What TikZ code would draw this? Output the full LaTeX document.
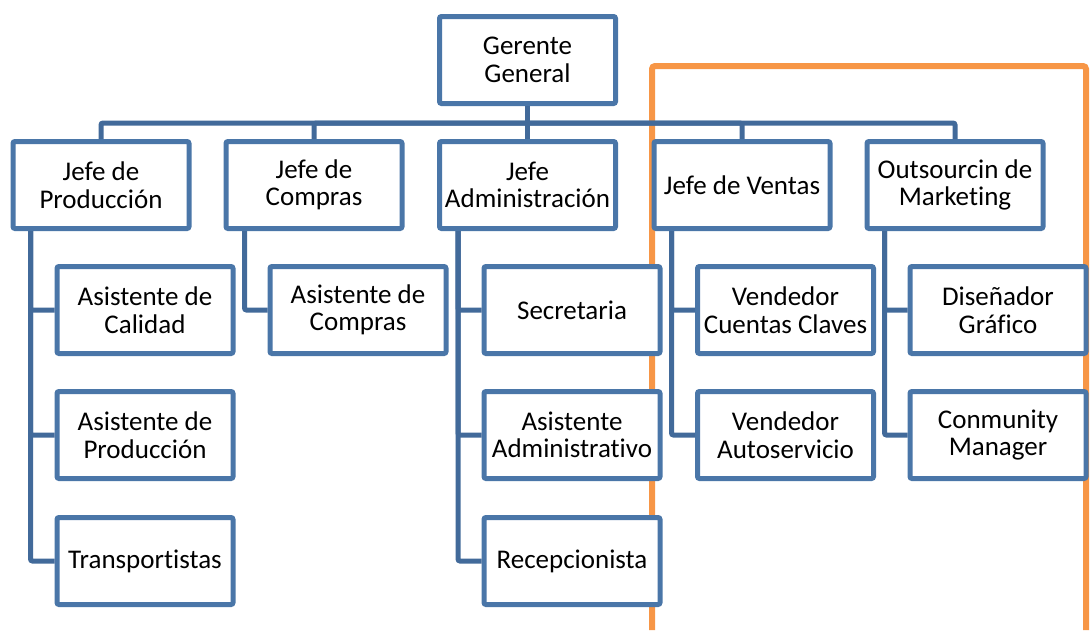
\documentclass[tikz,border=0pt]{standalone}
\usepackage{fontspec}
\setmainfont{Carlito}[Ligatures=NoCommon]
\definecolor{boxblue}{RGB}{74,118,168}
\definecolor{lineblue}{RGB}{66,106,154}
\definecolor{frameorange}{RGB}{247,150,70}
\begin{document}
\begin{tikzpicture}[x=1pt,y=-1pt,
  orgbox/.style={draw=boxblue, line width=5pt, fill=white, rounded corners=2pt,
    minimum width=176pt, minimum height=87pt, inner sep=0pt, align=center,
    font=\fontsize{27pt}{27.5pt}\selectfont},
  conn/.style={draw=lineblue, line width=5pt, rounded corners=2pt},
  frame/.style={draw=frameorange, line width=6pt, rounded corners=3pt}]
\useasboundingbox (0,0) rectangle (1090,630);
% orange frame
\coordinate (fa) at (652,630);
\coordinate (fb) at (652,66);
\coordinate (fc) at (1086,66);
\coordinate (fd) at (1086,630);
\draw[frame] (fa) -- (fb) -- (fc) -- (fd);
% top
\node[orgbox] (gg) at (527.5,60) {Gerente\\General};
% level 1
\node[orgbox] (jp) at (101,185) {Jefe de\\Producción};
\node[orgbox] (jc) at (314,185) {Jefe de\\Compras};
\node[orgbox] (ja) at (527.5,185) {Jefe\\Administración};
\node[orgbox] (jv) at (742,185) {Jefe de Ventas};
\node[orgbox] (om) at (955,185) {Outsourcin de\\Marketing};
% bus
\coordinate (bus) at (0,123);
\foreach \n in {jp,jc,ja,jv,om}{
  \draw[conn] (\n.north) |- (gg.south |- bus);
}
\draw[conn] (gg.south) -- (gg.south |- bus);
% children
\node[orgbox] (ac) at (145,310) {Asistente de\\Calidad};
\node[orgbox] (ap) at (145,435) {Asistente de\\Producción};
\node[orgbox] (tr) at (145,561) {Transportistas};
\node[orgbox] (aco) at (358,310) {Asistente de\\Compras};
\node[orgbox] (se) at (572,310) {Secretaria};
\node[orgbox] (aa) at (572,435) {Asistente\\Administrativo};
\node[orgbox] (re) at (572,561) {Recepcionista};
\node[orgbox] (vc) at (785.5,310) {Vendedor\\Cuentas Claves};
\node[orgbox] (va) at (785.5,435) {Vendedor\\Autoservicio};
\node[orgbox] (dg) at (998,310) {Diseñador\\Gráfico};
\node[orgbox] (cm) at (998,435) {Conmunity\\Manager};
% child connectors
\foreach \p/\c in {jp/ac,jp/ap,jp/tr}{
  \draw[conn] ([xshift=20pt]\p.south west) |- (\c.west);
}
\foreach \p/\c in {jc/aco}{
  \draw[conn] ([xshift=21pt]\p.south west) |- (\c.west);
}
\foreach \p/\c in {ja/se,ja/aa,ja/re}{
  \draw[conn] ([xshift=21pt]\p.south west) |- (\c.west);
}
\foreach \p/\c in {jv/vc,jv/va,om/dg,om/cm}{
  \draw[conn] ([xshift=20pt]\p.south west) |- (\c.west);
}
\end{tikzpicture}
\end{document}
